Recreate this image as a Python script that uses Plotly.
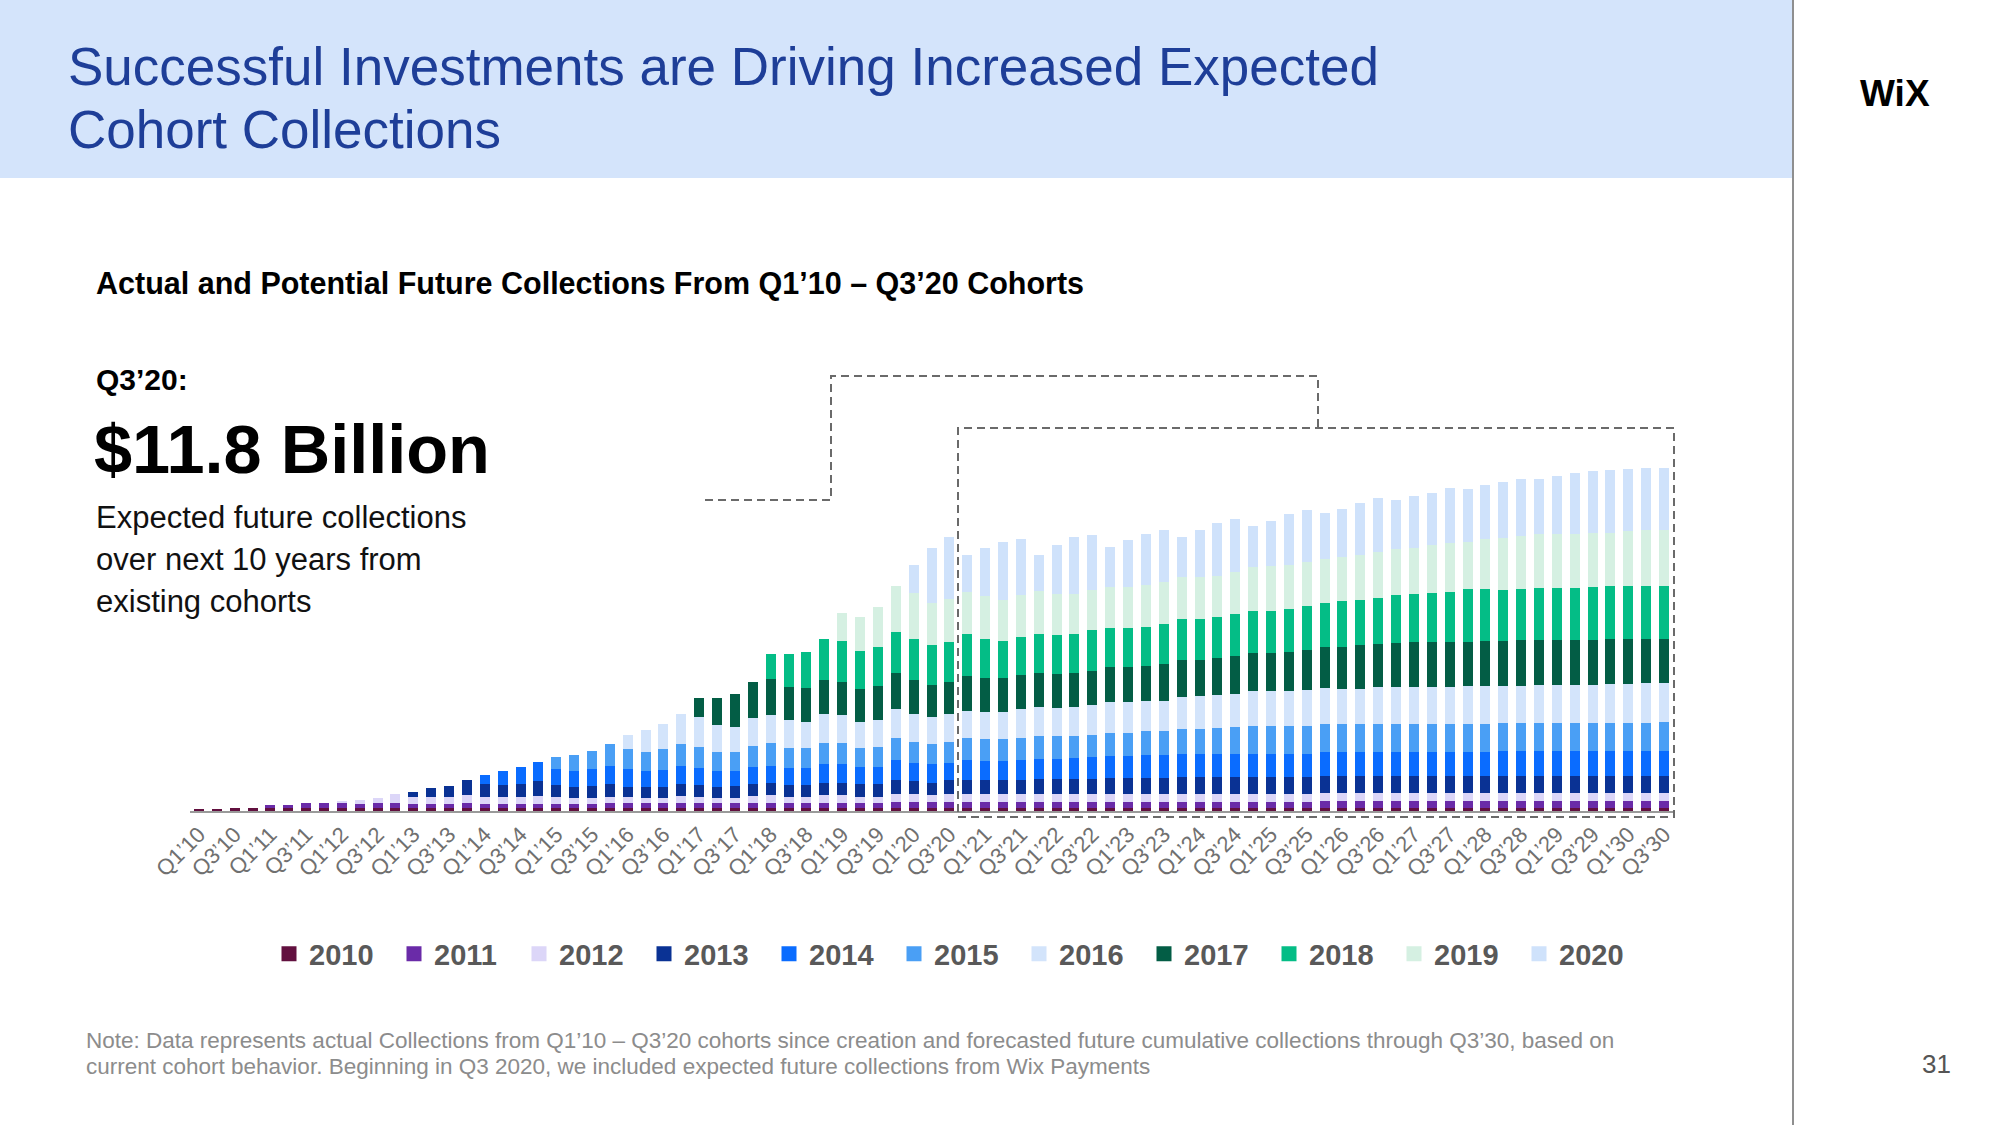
import plotly.graph_objects as go

# ---------------- data (relative scale) ----------------
quarters = [f"Q{q}’{y % 100:02d}" for y in range(2010, 2031) for q in range(1, 5)][:83]
tick_labels = quarters[::2]          # Q1 / Q3 labels only

cohort_names = ["2010", "2011", "2012", "2013", "2014", "2015",
                "2016", "2017", "2018", "2019", "2020"]
cohort_start = [0, 4, 8, 12, 16, 20, 24, 28, 32, 36, 40]   # index of first quarter

c2010 = [2, 2, 3.3, 3.3] + [3.0] * 35 + [3.5] * 44
c2011 = [2.7, 2.7, 5, 5, 5, 4, 4.7, 4.7, 3.7, 3.7, 3.7, 4.7] + [4] * 7 + [4.7] * 16 \
    + [5.8] * 4 + [5.5] * 20 + [6.5] * 20
c2012 = [2.3, 4.3, 5, 9, 7, 7, 7.3, 8.6, 7, 7, 7, 8, 7, 5.7, 5.7, 6.6, 6, 5.3, 5.3, 7.3,
         6.3, 5.3, 5.3, 7.3, 8, 6.6, 6.6, 8, 8, 6.6, 6.6, 7.4, 7.4, 6.7, 7.4] \
    + [8] * 20 + [8.3] * 20
c2013 = [5.3, 9, 10.7, 15, 13, 12, 13, 15, 12, 11.3, 12.3, 12.7, 10.6, 10.7, 11.3, 12,
         11.7, 11.3, 12, 12, 12.6, 11.4, 11.4, 12.6, 12.6, 12.7, 12.7, 14.3, 13.3, 12.3, 14.3] \
    + [14] * 4 + [15] * 4 + [16] * 4 + [17] * 8 + [17] * 20
c2014 = [9, 14, 17.3, 19.3, 16, 16, 17, 18.3, 17.7, 16.3, 16.7, 18.3, 17.6, 15.7, 15, 17.3,
         17, 17.6, 17.6, 18.7, 18.7, 17.3, 17.3, 20, 18.3, 18.7, 17.3, 20, 19.3, 19.3, 20,
         19.6, 19.6, 20.6, 21.6, 22, 22, 23, 23.5] + [23] * 8 + [24] * 10 + [24.5] * 10
c2015 = [12.3, 15.7, 18.3, 21.4, 19.7, 19.3, 20.7, 21.4, 20.4, 19.3, 19.3, 20.7, 22.4, 19.4,
         19.4, 20.7, 20.7, 18.4, 19.4, 21.7, 21, 19.7, 21, 21.7, 21.4, 21.4, 21.7, 23, 23, 22,
         22.4, 23, 23, 23.6, 23.3, 25, 25, 26, 27.3, 28.3, 28.3, 28.3, 28.3] \
    + [27.4] * 10 + [28.3] * 9 + [29.3]
c2016 = [14.3, 21.7, 25.3, 30, 30, 26.7, 25, 28.3, 28.3, 28.3, 26.6, 29, 28.3, 26, 27.3, 29,
         27.4, 27.6, 27.4, 27.6, 27.6, 27.6, 29, 29, 28, 29, 30.3, 30.6, 30.6, 30, 30.7, 31.6,
         33, 33, 32.7, 34.3, 34.3, 34.3, 35.7, 36, 35.6, 35.6, 37, 37.6, 37.6, 37.6, 37, 38.6,
         38.6, 37, 37.4, 38.4, 38.4, 38.4, 38.4, 39.4, 39.4, 40, 39]
c2017 = [19, 26.7, 32.4, 35.4, 36.3, 33.3, 33.4, 34.3, 32.7, 33, 34.3, 36, 34.3, 31.7, 32,
         34.7, 33.4, 33.4, 34.3, 34.4, 34.4, 34.4, 34, 35.7, 35.7, 35.7, 37, 37.7, 36.3, 36.6,
         38, 38, 38, 39, 40.3, 41.6, 42, 43.7, 43.3, 44, 45, 45, 45.6, 44, 45, 45, 45.3, 45,
         45, 45, 45, 45, 45, 44.4, 44.4]
c2018 = [24.4, 32.4, 36.3, 40.7, 41.6, 38.6, 38.7, 41, 40.7, 39.7, 40.3, 41.7, 39, 37.6, 38.3,
         39, 39, 39, 40.7, 39, 39, 39, 40, 40.7, 40.7, 41.7, 41.6, 42.7, 42.7, 43, 43.7, 44,
         45.4, 45, 46.3, 47.4, 47.7, 49, 50, 52.4, 51.4, 51.4, 51.3, 51.6, 51.6, 51.6, 52.6,
         52.6, 52.6, 52.6, 52.6]
c2019 = [28, 34, 40.3, 46.6, 46, 42, 43, 42, 43.3, 40.7, 41.7, 42.6, 41, 40, 40, 41, 41, 42,
         41.6, 42.3, 42.3, 41, 42, 43.3, 45, 44.7, 44.3, 43.4, 44.6, 44.7, 45.4, 46.3, 46.3,
         47.7, 48.7, 47.6, 50.3, 51.3, 53, 53.7, 54.4, 54.4, 53.7, 53.4, 55.4, 55.7, 56.4]
c2020 = [28.3, 55, 61.7, 37.3, 48.3, 58.3, 55.7, 36.7, 49.3, 56.6, 55, 39.3, 46.7, 50.7, 52.4,
         39.3, 46.7, 52.7, 53.4, 41.7, 45, 50.7, 52, 46, 47.4, 52.6, 54.6, 48.7, 51.7, 52.3,
         55.3, 52.4, 54, 56.3, 57.4, 55.7, 57.6, 61, 62.3, 62.6, 62, 62.7, 62]

cohort_values = [c2010, c2011, c2012, c2013, c2014, c2015, c2016, c2017, c2018, c2019, c2020]
cohort_colors = ["#62103f", "#6a2ba8", "#dcd6f8", "#0a3294", "#0a6cff", "#4a9ff5",
                 "#d3e4fb", "#035d45", "#04bd86", "#d5f0e2", "#cfe2fb"]

# ---------------- geometry helpers (pixel -> paper) ----------------
W, H = 2000, 1125
L, R, T, B = 190, 327, 411, 314
PW, PH = W - L - R, H - T - B


def px(x):
    return (x - L) / PW


def py(y):
    return (H - B - y) / PH


FONT = "Liberation Sans, Arial, Helvetica, sans-serif"

fig = go.Figure()
for name, start, vals, col in zip(cohort_names, cohort_start, cohort_values, cohort_colors):
    y = [None] * start + vals
    fig.add_trace(go.Bar(x=quarters, y=y, name=name, showlegend=False,
                         marker=dict(color=col, line=dict(width=0)),
                         hovertemplate="%{x}: %{y}<extra>" + name + "</extra>"))
# legend entries (square swatches)
for name, col in zip(cohort_names, cohort_colors):
    fig.add_trace(go.Scatter(x=[None], y=[None], mode="markers", name=name,
                             marker=dict(symbol="square", size=15, color=col),
                             hoverinfo="skip"))

shapes = []
# header band
shapes.append(dict(type="rect", xref="paper", yref="paper", x0=px(0), x1=px(1793),
                   y0=py(0), y1=py(178), fillcolor="#d4e4fb", line=dict(width=0), layer="below"))
# vertical divider
shapes.append(dict(type="line", xref="paper", yref="paper", x0=px(1793), x1=px(1793),
                   y0=py(0), y1=py(1125), line=dict(color="#8f8f8f", width=2)))
dash = dict(color="#6a6a6a", width=2, dash="8px,5px")
# bracket line from headline to forecast box
path = f"M{px(705)},{py(500)} L{px(831)},{py(500)} L{px(831)},{py(376)} " \
       f"L{px(1318)},{py(376)} L{px(1318)},{py(428)}"
shapes.append(dict(type="path", xref="paper", yref="paper", path=path, line=dash))
# forecast box
shapes.append(dict(type="rect", xref="paper", yref="paper", x0=px(958), x1=px(1674),
                   y0=py(817), y1=py(428), line=dash))


def ann(text, x, y, size, color="#000000", bold=False, xanchor="left"):
    return dict(text=text, x=px(x), y=py(y), xref="paper", yref="paper", showarrow=False,
                xanchor=xanchor, yanchor="middle",
                font=dict(family=FONT, size=size, color=color, weight="bold" if bold else "normal"))


title_col = "#1e3e98"
annotations = [
    ann("Successful Investments are Driving Increased Expected", 66, 66, 53, title_col),
    ann("Cohort Collections", 66, 129, 53, title_col),
    ann("WiX", 1895, 93, 37, "#000000", True, "center"),
    ann("Actual and Potential Future Collections From Q1’10 – Q3’20 Cohorts", 94, 283, 30.5,
        "#000000", True),
    ann("Q3’20:", 94, 379, 30, "#000000", True),
    ann("$11.8 Billion", 92, 449, 68.5, "#000000", True),
    ann("Expected future collections", 94, 517, 31, "#111111"),
    ann("over next 10 years from", 94, 559, 31, "#111111"),
    ann("existing cohorts", 94, 601, 31, "#111111"),
    ann("Note: Data represents actual Collections from Q1’10 – Q3’20 cohorts since creation and "
        "forecasted future cumulative collections through Q3’30, based on", 84, 1040, 22.5, "#8c8c8c"),
    ann("current cohort behavior. Beginning in Q3 2020, we included expected future collections "
        "from Wix Payments", 84, 1066, 22.5, "#8c8c8c"),
    ann("31", 1936, 1064, 26, "#555555", False, "center"),
]

fig.update_layout(
    width=W, height=H, margin=dict(l=L, r=R, t=T, b=B, autoexpand=False),
    paper_bgcolor="white", plot_bgcolor="white",
    barmode="stack", bargap=0.44,
    font=dict(family=FONT),
    shapes=shapes, annotations=annotations,
    showlegend=True,
    legend=dict(orientation="h", x=px(269), y=py(954), xanchor="left", yanchor="middle",
                traceorder="normal", itemwidth=30, entrywidth=80, entrywidthmode="pixels",
                font=dict(family=FONT, size=29, color="#595959", weight="bold"),
                bgcolor="rgba(0,0,0,0)", itemclick=False, itemdoubleclick=False),
    xaxis=dict(type="category", categoryorder="array", categoryarray=quarters,
               range=[-0.5, 82.5], tickmode="array", tickvals=tick_labels, ticktext=tick_labels,
               tickangle=-45, tickfont=dict(family=FONT, size=22, color="#707070"),
               showline=True, linecolor="#9a9a9a", linewidth=2, ticks="", showgrid=False,
               zeroline=False, fixedrange=True),
    yaxis=dict(range=[0, PH], visible=False, showgrid=False, zeroline=False, fixedrange=True),
)

fig.write_html("out.html", config={"displayModeBar": False},
               post_script="document.body.style.margin='0';"
                           "document.body.style.overflow='hidden';")
